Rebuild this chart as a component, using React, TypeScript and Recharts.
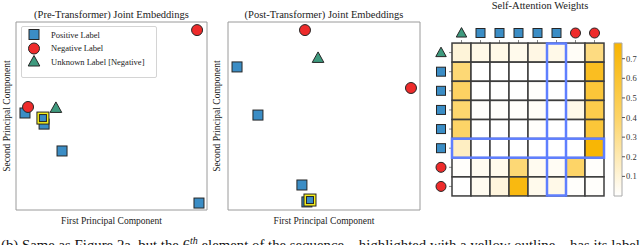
import React from 'react';
import { ScatterChart, Scatter, XAxis, YAxis, ReferenceArea, Legend, BarChart, Bar } from 'recharts';

const SERIF = '"Liberation Serif", "DejaVu Serif", serif';
const BLUE = '#3b8dc5';
const RED = '#ee2b2b';
const GREEN = '#3e9a7e';
const EDGE = '#262626';
const YELLOW = '#f5ee1c';
const HILITE = '#5f7fff';

// PCA positions, both axes on a 0-100 scale
const prePositive = [
  { x: 4.7, y: 51.6 },
  { x: 14.7, y: 45.7 },
  { x: 24.1, y: 31.4 },
  { x: 95.8, y: 3.7 },
];
const preNegative = [
  { x: 94.8, y: 95.7 },
  { x: 6.3, y: 54.8 },
];
const preUnknown = [{ x: 20.9, y: 54.3 }];
const preHighlight = [{ x: 14.1, y: 48.9 }];

const postPositive = [
  { x: 4.7, y: 76.1 },
  { x: 15.6, y: 50.5 },
  { x: 38.5, y: 13.3 },
  { x: 41.1, y: 4.3 },
];
const postNegative = [
  { x: 40.1, y: 95.7 },
  { x: 95.3, y: 64.9 },
];
const postUnknown = [{ x: 46.9, y: 80.9 }];
const postHighlight = [{ x: 42.7, y: 5.3 }];

// sequence tokens (rows and columns of the attention map)
const tokenKinds = ['triangle', 'square', 'square', 'square', 'square', 'square', 'circle', 'circle'];
const attentionWeights = [
  [0.1, 0.06, 0.06, 0.05, 0.07, 0.06, 0.02, 0.33],
  [0.36, 0.0, 0.0, 0.0, 0.0, 0.0, 0.0, 0.66],
  [0.42, 0.0, 0.0, 0.0, 0.01, 0.0, 0.0, 0.57],
  [0.38, 0.01, 0.01, 0.01, 0.02, 0.0, 0.06, 0.5],
  [0.4, 0.0, 0.0, 0.0, 0.01, 0.0, 0.0, 0.57],
  [0.16, 0.0, 0.0, 0.0, 0.0, 0.0, 0.0, 0.76],
  [0.01, 0.04, 0.05, 0.36, 0.04, 0.03, 0.4, 0.01],
  [0.0, 0.04, 0.09, 0.72, 0.05, 0.06, 0.01, 0.01],
];
const highlightIndex = 5;
const colorbarTicks = [0.1, 0.2, 0.3, 0.4, 0.5, 0.6, 0.7];
const V_MAX = 0.78;

const legendNames = ['Positive Label', 'Negative Label', 'Unknown Label [Negative]'];
const legendKinds = ['square', 'circle', 'triangle'];

function marker(kind: string, cx: number, cy: number, s = 10) {
  if (kind === 'square')
    return <rect x={cx - s / 2} y={cy - s / 2} width={s} height={s} fill={BLUE} stroke={EDGE} strokeWidth={1} />;
  if (kind === 'circle')
    return <circle cx={cx} cy={cy} r={s / 2 + 0.5} fill={RED} stroke={EDGE} strokeWidth={1} />;
  if (kind === 'triangle')
    return (
      <polygon
        points={`${cx},${cy - s * 0.6} ${cx + s * 0.58},${cy + s * 0.45} ${cx - s * 0.58},${cy + s * 0.45}`}
        fill={GREEN}
        stroke={EDGE}
        strokeWidth={1}
      />
    );
  return (
    <g>
      <rect x={cx - 6} y={cy - 6} width={12} height={12} fill={YELLOW} stroke={EDGE} strokeWidth={1} />
      <rect x={cx - 3.5} y={cy - 3.5} width={7} height={7} fill={BLUE} stroke={EDGE} strokeWidth={1} />
    </g>
  );
}

function hex(c: string) {
  return [1, 3, 5].map((i) => parseInt(c.slice(i, i + 2), 16));
}
function mix(a: string, b: string, t: number) {
  const A = hex(a);
  const B = hex(b);
  return `rgb(${A.map((v, i) => Math.round(v + (B[i] - v) * t)).join(',')})`;
}
function weightColor(v: number) {
  const t = Math.max(0, Math.min(1, v / V_MAX));
  return t < 0.5 ? mix('#ffffff', '#fdd56a', t * 2) : mix('#fdd56a', '#f8b400', (t - 0.5) * 2);
}

const LegendBox = ({ payload }: any) => {
  const items = (payload || [])
    .filter((p: any) => legendNames.includes(p.value))
    .sort((a: any, b: any) => legendNames.indexOf(a.value) - legendNames.indexOf(b.value));
  return (
    <div
      style={{
        width: 134,
        height: 49,
        border: '1px solid #d4d4d4',
        borderRadius: 2,
        background: '#fff',
        fontFamily: SERIF,
        fontSize: 8.5,
        color: '#222',
        paddingTop: 1,
        boxSizing: 'content-box',
      }}
    >
      {items.map((p: any) => (
        <div key={p.value} style={{ display: 'flex', alignItems: 'center', height: 13.5 }}>
          <svg width={24} height={13}>
            {marker(legendKinds[legendNames.indexOf(p.value)], 12, 6.5)}
          </svg>
          <span style={{ marginLeft: 5 }}>{p.value}</span>
        </div>
      ))}
    </div>
  );
};

const labelStyle = { fontFamily: SERIF, fontSize: 9.5, fill: '#222' };

function EmbeddingPanel(props: {
  left: number;
  right: number;
  title: string;
  positive: any[];
  negative: any[];
  unknown: any[];
  highlight: any[];
  showLegend: boolean;
  yLabelOffset: number;
}) {
  return (
    <div style={{ position: 'absolute', left: props.left, top: 0 }}>
      <div
        style={{
          position: 'absolute',
          left: 16,
          width: 215 - 16 - props.right,
          top: 9,
          textAlign: 'center',
          fontSize: 10.5,
          lineHeight: '12px',
          color: '#222',
          whiteSpace: 'nowrap',
        }}
      >
        {props.title}
      </div>
      <ScatterChart width={215} height={230} margin={{ top: 22, right: props.right, bottom: 0, left: 0 }}>
        <XAxis
          type="number"
          dataKey="x"
          domain={[0, 100]}
          tick={false}
          tickLine={false}
          axisLine={false}
          height={20}
          label={{ value: 'First Principal Component', position: 'insideBottom', offset: 6, style: labelStyle }}
        />
        <YAxis
          type="number"
          dataKey="y"
          domain={[0, 100]}
          tick={false}
          tickLine={false}
          axisLine={false}
          width={16}
          label={{
            value: 'Second Principal Component',
            angle: -90,
            position: 'insideLeft',
            offset: props.yLabelOffset,
            style: { ...labelStyle, textAnchor: 'middle' },
          }}
        />
        <ReferenceArea x1={0} x2={100} y1={0} y2={100} fill="none" stroke="#9a9a9a" strokeWidth={1} />
        <Scatter name="Positive Label" data={props.positive} fill={BLUE} isAnimationActive={false}
          shape={(p: any) => marker('square', p.cx, p.cy)} />
        <Scatter name="Negative Label" data={props.negative} fill={RED} isAnimationActive={false}
          shape={(p: any) => marker('circle', p.cx, p.cy)} />
        <Scatter name="Unknown Label [Negative]" data={props.unknown} fill={GREEN} isAnimationActive={false}
          shape={(p: any) => marker('triangle', p.cx, p.cy)} />
        <Scatter name="highlight" data={props.highlight} legendType="none" isAnimationActive={false}
          shape={(p: any) => marker('highlight', p.cx, p.cy)} />
        {props.showLegend && (
          <Legend
            layout="vertical"
            align="center"
            verticalAlign="middle"
            content={<LegendBox />}
            wrapperStyle={{ left: 21, top: 26, width: 136 }}
          />
        )}
      </ScatterChart>
    </div>
  );
}

const CELL = 19;
const cells = attentionWeights.flatMap((row, r) => row.map((v, c) => ({ x: c, y: r, v })));
const bands = [
  { x: highlightIndex, y: (tokenKinds.length - 1) / 2, w: 1, h: tokenKinds.length },
  { x: (tokenKinds.length - 1) / 2, y: highlightIndex, w: tokenKinds.length, h: 1 },
];
const tickIdx = tokenKinds.map((_, i) => i);

function AttentionMap() {
  return (
    <div style={{ position: 'absolute', left: 430, top: 0 }}>
      <div
        style={{
          position: 'absolute',
          left: 40,
          width: 140,
          top: 0,
          textAlign: 'center',
          fontSize: 10.5,
          lineHeight: '12px',
          color: '#222',
          whiteSpace: 'nowrap',
        }}
      >
        Self-Attention Weights
      </div>
      <ScatterChart width={180} height={215} margin={{ top: 23, right: 6, bottom: 19, left: 2 }}>
        <XAxis
          type="number"
          dataKey="x"
          orientation="top"
          domain={[-0.5, 7.5]}
          ticks={tickIdx}
          interval={0}
          height={20}
          axisLine={false}
          tickSize={3}
          tickLine={{ stroke: '#888' }}
          tick={(p: any) => <g>{marker(tokenKinds[p.payload.value], p.x, p.y - 5, 9)}</g>}
        />
        <YAxis
          type="number"
          dataKey="y"
          reversed
          domain={[-0.5, 7.5]}
          ticks={tickIdx}
          interval={0}
          width={20}
          axisLine={false}
          tickSize={3}
          tickLine={{ stroke: '#888' }}
          tick={(p: any) => <g>{marker(tokenKinds[p.payload.value], p.x - 6, p.y, 9)}</g>}
        />
        <Scatter
          data={cells}
          isAnimationActive={false}
          shape={(p: any) => (
            <rect
              x={p.cx - CELL / 2}
              y={p.cy - CELL / 2}
              width={CELL}
              height={CELL}
              fill={weightColor(p.payload.v)}
              stroke="#3c3c3c"
              strokeWidth={1.5}
            />
          )}
        />
        <Scatter
          data={bands}
          isAnimationActive={false}
          shape={(p: any) => (
            <rect
              x={p.cx - (p.payload.w * CELL) / 2}
              y={p.cy - (p.payload.h * CELL) / 2}
              width={p.payload.w * CELL}
              height={p.payload.h * CELL}
              fill="none"
              stroke={HILITE}
              strokeWidth={2.5}
            />
          )}
        />
      </ScatterChart>
    </div>
  );
}

function Colorbar() {
  return (
    <div style={{ position: 'absolute', left: 606, top: 0 }}>
      <BarChart width={40} height={215} data={[{ name: 'w', v: V_MAX }]} margin={{ top: 43, right: 0, bottom: 19, left: 8 }}
        barCategoryGap={0}>
        <defs>
          <linearGradient id="cbar" x1="0" y1="0" x2="0" y2="1">
            <stop offset="0%" stopColor="#f8b400" />
            <stop offset="50%" stopColor="#fdd56a" />
            <stop offset="100%" stopColor="#ffffff" />
          </linearGradient>
        </defs>
        <XAxis dataKey="name" hide />
        <YAxis
          orientation="right"
          domain={[0, V_MAX]}
          ticks={colorbarTicks}
          width={24}
          axisLine={false}
          tickSize={3}
          tickMargin={1}
          tickLine={{ stroke: '#555' }}
          tickFormatter={(v: number) => v.toFixed(1)}
          tick={{ fontFamily: SERIF, fontSize: 8.5, fill: '#333' }}
        />
        <Bar dataKey="v" fill="url(#cbar)" stroke="#aaa" strokeWidth={1} isAnimationActive={false} />
      </BarChart>
    </div>
  );
}

export default function App() {
  return (
    <div
      style={{
        position: 'fixed',
        left: 0,
        top: 0,
        width: 640,
        height: 245,
        overflow: 'hidden',
        background: '#fff',
        fontFamily: SERIF,
      }}
    >
      <EmbeddingPanel
        left={0}
        right={8}
        title="(Pre-Transformer) Joint Embeddings"
        positive={prePositive}
        negative={preNegative}
        unknown={preUnknown}
        highlight={preHighlight}
        showLegend
        yLabelOffset={7}
      />
      <EmbeddingPanel
        left={212}
        right={7}
        title="(Post-Transformer) Joint Embeddings"
        positive={postPositive}
        negative={postNegative}
        unknown={postUnknown}
        highlight={postHighlight}
        showLegend={false}
        yLabelOffset={5}
      />
      <AttentionMap />
      <Colorbar />
      <div
        style={{
          position: 'absolute',
          left: 1,
          top: 232,
          fontSize: 14.8,
          lineHeight: '17px',
          color: '#111',
          whiteSpace: 'nowrap',
        }}
      >
        (b) Same as Figure 2a, but the 6<sup style={{ fontSize: 10, fontStyle: 'italic' }}>th</sup> element of the
        sequence – highlighted with a yellow outline – has its label
      </div>
    </div>
  );
}
